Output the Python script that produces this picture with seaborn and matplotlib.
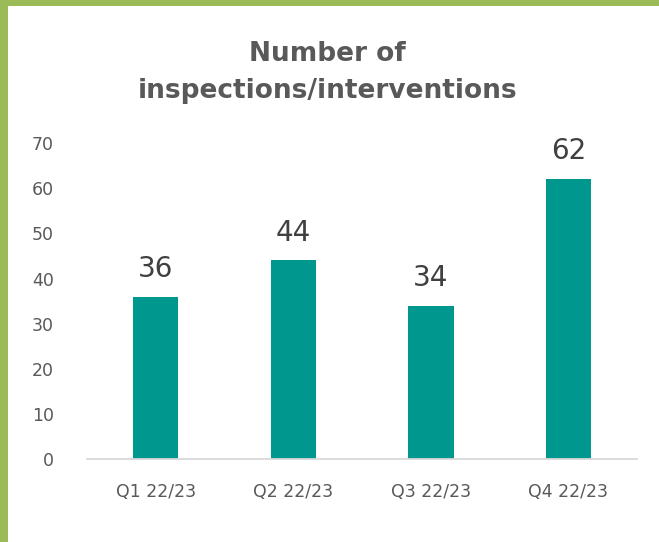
import matplotlib
matplotlib.use("Agg")
import matplotlib.pyplot as plt
import seaborn as sns
import pandas as pd

quarters = ["Q1 22/23", "Q2 22/23", "Q3 22/23", "Q4 22/23"]
counts = [36, 44, 34, 62]
yticks = [0, 10, 20, 30, 40, 50, 60, 70]

sns.set_theme(style="white")
plt.rcParams["font.family"] = ["DejaVu Sans"]

df = pd.DataFrame({"quarter": quarters, "count": counts})

fig = plt.figure(figsize=(6.59, 5.42), dpi=100)
fig.patch.set_facecolor("white")
ax = fig.add_axes([0.132, 0.153, 0.835, 0.583])

sns.barplot(data=df, x="quarter", y="count", color="#00978F", saturation=1,
            width=0.33, linewidth=0, ax=ax)

ax.set_ylim(0, 70)
ax.set_yticks(yticks)
ax.set_xlabel("")
ax.set_ylabel("")
ax.tick_params(axis="both", length=0, colors="#595959", labelsize=12.5)
ax.tick_params(axis="x", pad=17)
ax.tick_params(axis="y", pad=24)
for s in ["top", "right", "left"]:
    ax.spines[s].set_visible(False)
ax.spines["bottom"].set_color("#D9D9D9")
ax.spines["bottom"].set_linewidth(1.3)

for patch, v in zip(ax.patches, counts):
    ax.annotate(f"{v}", (patch.get_x() + patch.get_width() / 2, v),
                xytext=(0, 10), textcoords="offset points",
                ha="center", va="bottom", fontsize=20, color="#404040")

fig.text(0.497, 0.866, "Number of\ninspections/interventions", ha="center",
         va="center", fontsize=19, fontweight="bold", color="#595959",
         linespacing=1.55)

# Green frame on the top and left edges
fig.add_artist(plt.Rectangle((0, 1 - 6 / 542), 1, 6 / 542, transform=fig.transFigure,
                             color="#9BBB59", lw=0))
fig.add_artist(plt.Rectangle((0, 0), 8 / 659, 1, transform=fig.transFigure,
                             color="#9BBB59", lw=0))

fig.savefig("out.png", dpi=100)
